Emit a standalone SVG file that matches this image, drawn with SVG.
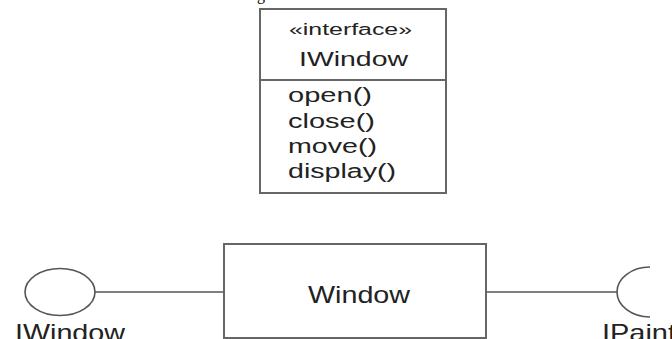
<svg xmlns="http://www.w3.org/2000/svg" width="672" height="339" viewBox="0 0 672 339">
<style>
.box{fill:#fff;stroke:#666;stroke-width:2}
.ln{fill:none;stroke:#555;stroke-width:1.6}
.t{font-family:"Liberation Sans",Arial,sans-serif;fill:#222}
</style>
<rect width="672" height="339" fill="#fff"/>
<text x="257" y="-0.5" font-family="Liberation Serif,serif" font-size="16" fill="#000">g</text>
<g id="connectors">
<line class="ln" x1="95" y1="292" x2="224" y2="292"/>
<line class="ln" x1="486" y1="292" x2="617" y2="292"/>
</g>
<g id="IWindowInterface">
<rect class="box" x="260" y="9" width="186" height="184"/>
<line class="box" x1="260" y1="80" x2="446" y2="80"/>
<text class="t" x="289" y="35" font-size="16" textLength="123" lengthAdjust="spacingAndGlyphs">«interface»</text>
<text class="t" x="299" y="66" font-size="19.5" textLength="109" lengthAdjust="spacingAndGlyphs">IWindow</text>
<text class="t" x="288" y="102" font-size="20" textLength="84" lengthAdjust="spacingAndGlyphs">open()</text>
<text class="t" x="288" y="128" font-size="20" textLength="87" lengthAdjust="spacingAndGlyphs">close()</text>
<text class="t" x="288" y="153" font-size="20" textLength="89" lengthAdjust="spacingAndGlyphs">move()</text>
<text class="t" x="288" y="178" font-size="20" textLength="108" lengthAdjust="spacingAndGlyphs">display()</text>
</g>
<g id="Window">
<rect class="box" x="224" y="244" width="262" height="94"/>
<text class="t" x="308" y="303" font-size="24" textLength="102" lengthAdjust="spacingAndGlyphs">Window</text>
</g>
<g id="IWindowLollipop">
<ellipse class="ln" cx="60" cy="292" rx="35" ry="23.5"/>
<text class="t" x="15" y="341" font-size="24" textLength="110" lengthAdjust="spacingAndGlyphs">IWindow</text>
</g>
<g id="IPaintSocket">
<path class="ln" d="M650,267 A33,25 0 0 0 650,317"/>
<text class="t" x="602" y="341" font-size="24" textLength="74" lengthAdjust="spacingAndGlyphs">IPaint</text>
</g>
</svg>
